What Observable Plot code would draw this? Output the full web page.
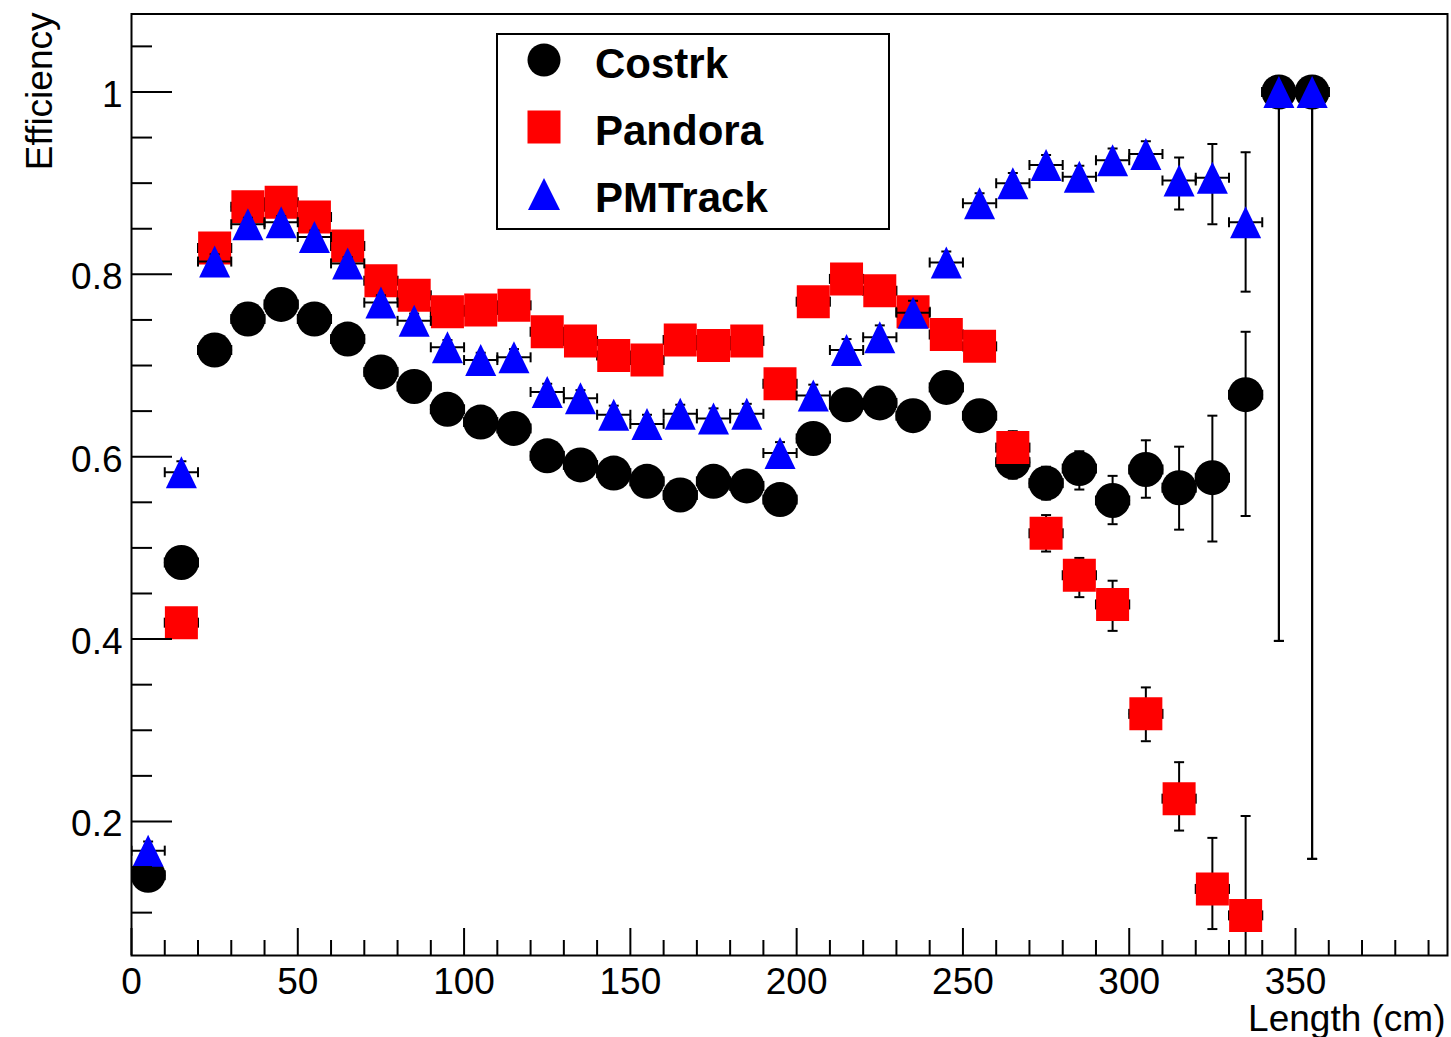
<!DOCTYPE html>
<html><head><meta charset="utf-8">
<script src="https://cdn.jsdelivr.net/npm/d3@7"></script>
<script src="https://cdn.jsdelivr.net/npm/@observablehq/plot@0.6"></script>
<style>
body{margin:0;background:#fff;}
#wrap{position:relative;width:1451px;height:1037px;font-family:"Liberation Sans",Arial,Helvetica,sans-serif;}
#legend{position:absolute;left:496px;top:33px;width:394px;height:197px;box-sizing:border-box;border:2px solid #000;background:#fff;}
.entry{position:absolute;left:0;width:100%;height:60px;}
.entry svg{position:absolute;left:29px;top:8px;}
.entry span{position:absolute;left:97px;top:5px;font-weight:bold;font-size:42px;line-height:48px;color:#000;}
</style></head><body><div id="wrap"></div>
<script>
// ---- data ----
const binCenters = [5,15,25,35,45,55,65,75,85,95,105,115,125,135,145,155,165,175,185,195,205,215,225,235,245,255,265,275,285,295,305,315,325,335,345,355];
const xErr = 5; // half bin width (cm)

const costrk   = [0.141,0.484,0.717,0.751,0.767,0.751,0.729,0.693,0.677,0.652,0.638,0.631,0.601,0.591,0.582,0.573,0.558,0.573,0.568,0.553,0.620,0.657,0.659,0.645,0.676,0.645,0.594,0.571,0.587,0.552,0.586,0.566,0.577,0.668,1.0,1.0];
const costrkLo = [0.010,0.012,0.008,0.007,0.007,0.007,0.007,0.008,0.008,0.008,0.008,0.009,0.009,0.009,0.010,0.010,0.011,0.011,0.012,0.013,0.013,0.013,0.014,0.015,0.015,0.016,0.018,0.018,0.023,0.026,0.031,0.046,0.070,0.133,0.602,0.841];
const costrkHi = [0.010,0.012,0.008,0.007,0.007,0.007,0.007,0.008,0.008,0.008,0.008,0.009,0.009,0.009,0.010,0.010,0.011,0.011,0.012,0.013,0.013,0.013,0.014,0.015,0.015,0.016,0.018,0.018,0.019,0.027,0.032,0.045,0.068,0.069,0,0];

const pandora   = [null,0.418,0.829,0.874,0.879,0.863,0.831,0.793,0.777,0.759,0.761,0.766,0.737,0.727,0.711,0.706,0.728,0.722,0.727,0.680,0.770,0.795,0.782,0.759,0.734,0.721,0.610,0.516,0.470,0.438,0.318,0.225,0.126,0.097,null,null];
const pandoraLo = [0,0.012,0.008,0.007,0.007,0.007,0.007,0.008,0.008,0.008,0.008,0.009,0.009,0.009,0.010,0.010,0.010,0.011,0.011,0.012,0.012,0.012,0.013,0.014,0.015,0.016,0.018,0.020,0.024,0.029,0.030,0.035,0.044,0.077,0,0];
const pandoraHi = [0,0.012,0.008,0.007,0.007,0.007,0.007,0.008,0.008,0.008,0.008,0.009,0.009,0.009,0.010,0.010,0.010,0.011,0.011,0.012,0.012,0.012,0.013,0.014,0.015,0.016,0.018,0.020,0.019,0.026,0.029,0.040,0.056,0.109,0,0];

const pmtrack   = [0.168,0.583,0.814,0.855,0.857,0.841,0.812,0.769,0.749,0.720,0.706,0.709,0.671,0.664,0.646,0.636,0.647,0.642,0.647,0.604,0.667,0.717,0.731,0.758,0.813,0.878,0.900,0.920,0.907,0.925,0.932,0.903,0.906,0.857,1.0,1.0];
const pmtrackLo = [0.010,0.012,0.008,0.007,0.007,0.007,0.007,0.008,0.008,0.008,0.008,0.009,0.009,0.009,0.010,0.010,0.010,0.011,0.011,0.012,0.012,0.012,0.013,0.013,0.012,0.011,0.011,0.011,0.013,0.014,0.016,0.032,0.051,0.076,0.602,0.841];
const pmtrackHi = [0.010,0.012,0.008,0.007,0.007,0.007,0.007,0.008,0.008,0.008,0.008,0.009,0.009,0.009,0.010,0.010,0.010,0.011,0.011,0.012,0.012,0.012,0.013,0.013,0.012,0.011,0.011,0.011,0.012,0.013,0.014,0.025,0.037,0.077,0,0];

const seriesNames  = ["Costrk","Pandora","PMTrack"];
const seriesColors = ["#000000","#ff0000","#0000ff"];

const xTicksMajor = [0,50,100,150,200,250,300,350];
const xTicksMinor = [10,20,30,40,60,70,80,90,110,120,130,140,160,170,180,190,210,220,230,240,260,270,280,290,310,320,330,340,360,370,380,390];
const yTicksMajor = [0.2,0.4,0.6,0.8,1.0];
const yTicksMinor = [0.1,0.15,0.25,0.3,0.35,0.45,0.5,0.55,0.65,0.7,0.75,0.85,0.9,0.95,1.05];
const xDomain = [0, 395.7];
const yDomain = [0.053, 1.0855];

// ---- layout ----
const W = 1451, H = 1037;
const mL = 131, mR = 4, mT = 13.5, mB = 82;
const frameW = W - mL - mR, frameH = H - mT - mB;

// ---- symbols ----
const rad = s => Math.sqrt(s / Math.PI);
const circleSym = {draw(c, s){const r = rad(s); c.moveTo(r,0); c.arc(0,0,r,0,2*Math.PI); c.closePath();}};
const squareSym = {draw(c, s){const r = rad(s); c.rect(-r,-r,2*r,2*r);}};
const triSym    = {draw(c, s){const r = rad(s); c.moveTo(0,-r); c.lineTo(0.97*r,r); c.lineTo(-0.97*r,r); c.closePath();}};
const hCap      = {draw(c, s){const r = rad(s); c.moveTo(-r,0); c.lineTo(r,0);}};
const vCap      = {draw(c, s){const r = rad(s); c.moveTo(0,-r); c.lineTo(0,r);}};
const seriesSymbols = [circleSym, squareSym, triSym];
const seriesR = [17.5, 16.5, 16];

const seriesVals = [[costrk,costrkLo,costrkHi],[pandora,pandoraLo,pandoraHi],[pmtrack,pmtrackLo,pmtrackHi]];

const marks = [];
seriesVals.forEach(([v, lo, hi], k) => {
  const rows = binCenters.map((x, i) => ({x, y: v[i], lo: lo[i], hi: hi[i]})).filter(d => d.y != null);
  const eb = {stroke: "black", strokeWidth: 2, clip: true};
  marks.push(Plot.ruleX(rows, {x: "x", y1: d => d.y - d.lo, y2: d => d.y + d.hi, ...eb}));
  marks.push(Plot.ruleY(rows, {y: "y", x1: d => d.x - xErr, x2: d => d.x + xErr, ...eb}));
  marks.push(Plot.dot(rows.filter(d => d.lo > 0), {x: "x", y: d => d.y - d.lo, symbol: hCap, r: 5, fill: "none", ...eb}));
  marks.push(Plot.dot(rows.filter(d => d.hi > 0), {x: "x", y: d => d.y + d.hi, symbol: hCap, r: 5, fill: "none", ...eb}));
  marks.push(Plot.dot(rows, {x: d => d.x - xErr, y: "y", symbol: vCap, r: 5, fill: "none", ...eb}));
  marks.push(Plot.dot(rows, {x: d => d.x + xErr, y: "y", symbol: vCap, r: 5, fill: "none", ...eb}));
  marks.push(Plot.dot(rows, {x: "x", y: "y", symbol: seriesSymbols[k], r: seriesR[k], fill: seriesColors[k], stroke: "none", clip: true}));
});

const tk = {stroke: "black", strokeWidth: 2};
marks.push(
  Plot.ruleX(xTicksMajor, {x: d => d, insetTop: frameH - 27, ...tk}),
  Plot.ruleX(xTicksMinor, {x: d => d, insetTop: frameH - 15, ...tk}),
  Plot.ruleY(yTicksMajor, {y: d => d, insetRight: frameW - 41, ...tk}),
  Plot.ruleY(yTicksMinor, {y: d => d, insetRight: frameW - 21, ...tk}),
  Plot.axisX(xTicksMajor, {tickSize: 0, tickPadding: 12, fontSize: 37, label: null, tickFormat: d => String(d)}),
  Plot.axisY(yTicksMajor, {tickSize: 0, tickPadding: 9, fontSize: 37, label: null, dy: 3, tickFormat: d => String(d)}),
  Plot.text(["Efficiency"], {text: d => d, frameAnchor: "top-left", rotate: -90, textAnchor: "end", dx: -106, dy: -1.5, fontSize: 37, fill: "black"}),
  Plot.text(["Length (cm)"], {text: d => d, frameAnchor: "bottom-right", textAnchor: "end", dx: -2, dy: 75, fontSize: 37, fill: "black"}),
  Plot.frame({stroke: "black", strokeWidth: 2})
);

const chart = Plot.plot({
  width: W, height: H,
  marginLeft: mL, marginRight: mR, marginTop: mT, marginBottom: mB,
  x: {domain: xDomain},
  y: {domain: yDomain},
  style: {fontFamily: '"Liberation Sans", Arial, Helvetica, sans-serif', fontSize: "37px", background: "white", color: "black"},
  marks
});
const wrap = document.getElementById("wrap");
wrap.appendChild(chart);

// ---- legend (HTML overlay inside the frame) ----
const legend = document.createElement("div");
legend.id = "legend";
const shapes = [
  '<circle cx="17" cy="17" r="16.5"/>',
  '<rect x="0.5" y="0.5" width="33" height="33"/>',
  '<path d="M17,1 L33,33 L1,33 Z"/>'
];
seriesNames.forEach((name, k) => {
  const e = document.createElement("div");
  e.className = "entry";
  e.style.top = (k * 67) + "px";
  e.innerHTML = `<svg width="34" height="34" fill="${seriesColors[k]}">${shapes[k]}</svg><span>${name}</span>`;
  legend.appendChild(e);
});
wrap.appendChild(legend);
</script>
</body></html>
